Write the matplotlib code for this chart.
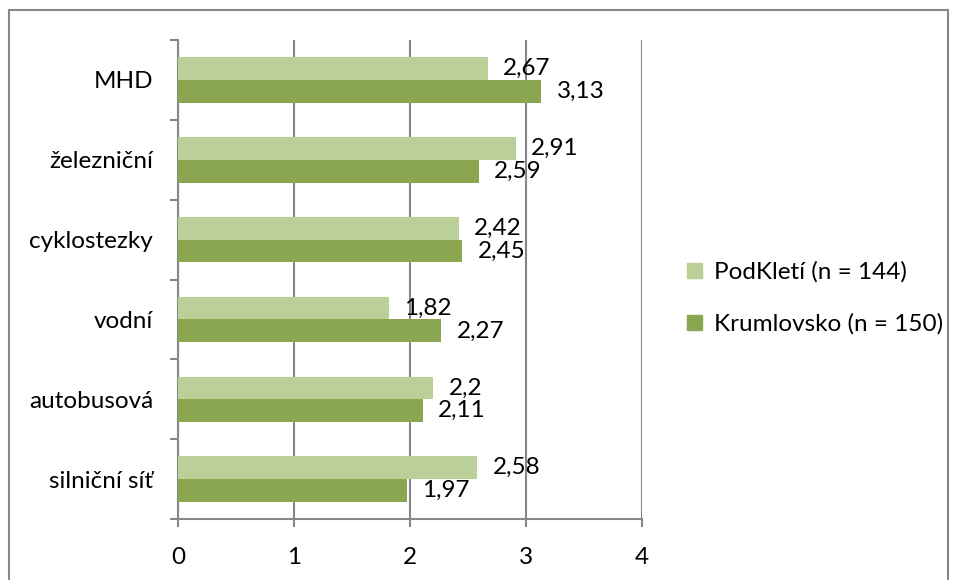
import matplotlib
matplotlib.use('Agg')
import matplotlib.pyplot as plt
from matplotlib.patches import Rectangle, Patch
import numpy as np

plt.rcParams['font.family'] = ['Lato', 'DejaVu Sans']

categories = ['silniční síť', 'autobusová', 'vodní', 'cyklostezky', 'železniční', 'MHD']
podkleti = [2.58, 2.2, 1.82, 2.42, 2.91, 2.67]
krumlovsko = [1.97, 2.11, 2.27, 2.45, 2.59, 3.13]
series_names = ['PodKletí (n = 144)', 'Krumlovsko (n = 150)']

LIGHT = '#BBCF99'
DARK = '#8AA650'
GRID = '#878787'
FS = 17.5

fig = plt.figure(figsize=(9.57, 5.8), dpi=100)
ax = fig.add_axes([0.186, 0.105, 0.485, 0.826])

y = np.arange(len(categories))
h = 0.285
ax.barh(y + h / 2, podkleti, height=h, color=LIGHT, zorder=3)
ax.barh(y - h / 2, krumlovsko, height=h, color=DARK, zorder=3)

def fmt(v):
    return f'{v:g}'.replace('.', ',')

for yi, v in zip(y, podkleti):
    ax.annotate(fmt(v), xy=(v, yi + h / 2), xytext=(11, 0), textcoords='offset points',
                va='center', ha='left', fontsize=FS, zorder=4)
for yi, v in zip(y, krumlovsko):
    ax.annotate(fmt(v), xy=(v, yi - h / 2), xytext=(11, 0), textcoords='offset points',
                va='center', ha='left', fontsize=FS, zorder=4)

ax.set_xlim(0, 4)
ax.set_ylim(-0.5, len(categories) - 0.5)
ax.set_xticks([0, 1, 2, 3, 4])
ax.set_xticklabels(['0', '1', '2', '3', '4'])
ax.grid(True, axis='x', color=GRID, linewidth=1.5, zorder=0)

# category boundaries as major ticks, names on minor ticks
ax.set_yticks(np.arange(-0.5, len(categories), 1.0))
ax.set_yticklabels([])
ax.set_yticks(y, minor=True)
ax.set_yticklabels(categories, minor=True)
ax.tick_params(axis='y', which='major', length=6, width=1.5, color=GRID)
ax.tick_params(axis='y', which='minor', length=0, pad=18, labelsize=FS)
ax.tick_params(axis='x', length=6, width=1.5, color=GRID, pad=14, labelsize=FS)

for s in ['top', 'right']:
    ax.spines[s].set_visible(False)
for s in ['left', 'bottom']:
    ax.spines[s].set_color(GRID)
    ax.spines[s].set_linewidth(1.5)

handles = [Patch(color=LIGHT), Patch(color=DARK)]
fig.legend(handles, series_names, loc='center left', bbox_to_anchor=(0.718, 0.486),
           frameon=False, fontsize=FS, handlelength=0.6, handleheight=0.6,
           handletextpad=0.5, labelspacing=1.25, borderpad=0, borderaxespad=0)

fig.add_artist(Rectangle((9 / 957, -0.05), 1 - 18 / 957, 1.05 - 10 / 580,
                         transform=fig.transFigure, fill=False, edgecolor=GRID,
                         linewidth=1.5))

fig.savefig('out.png', dpi=100)
